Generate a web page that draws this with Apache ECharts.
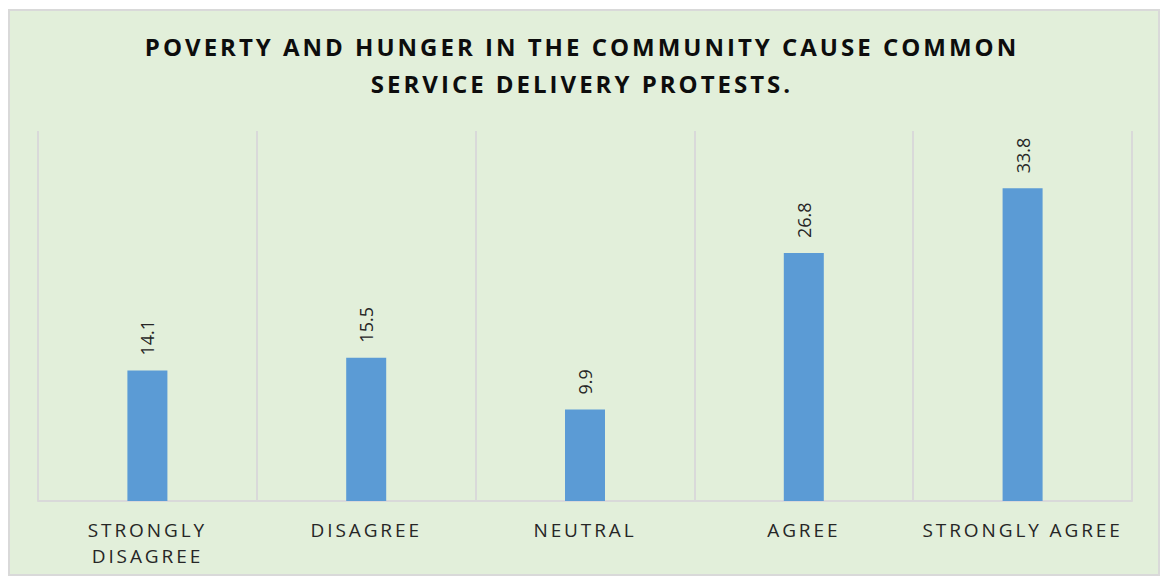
<!DOCTYPE html>
<html>
<head>
<meta charset="utf-8">
<script src="https://cdn.jsdelivr.net/npm/echarts@6/dist/echarts.min.js"></script>
<style>
  html, body { margin: 0; padding: 0; background: #ffffff; }
  #chart { width: 1164px; height: 580px; }
  /* tracked capitals for the title and category names */
  #chart text[style*="bold"] { letter-spacing: 3px; }
  #chart text[style*="19px"] { letter-spacing: 2.9px; }
</style>
</head>
<body>
<div id="chart"></div>
<script>
const titleLines = [
  'POVERTY AND HUNGER IN THE COMMUNITY CAUSE COMMON',
  'SERVICE DELIVERY PROTESTS.'
];
const categories = ['STRONGLY\nDISAGREE', 'DISAGREE', 'NEUTRAL', 'AGREE', 'STRONGLY AGREE'];
const percentages = [14.1, 15.5, 9.9, 26.8, 33.8];

const chart = echarts.init(document.getElementById('chart'), null, { renderer: 'svg' });

chart.setOption({
  backgroundColor: '#ffffff',
  animation: false,
  graphic: [{
    type: 'rect',
    z: -10,
    shape: { x: 9, y: 10, width: 1150, height: 565 },
    style: { fill: '#e2efda', stroke: '#d9d9d9', lineWidth: 2 }
  }],
  title: {
    text: titleLines.join('\n'),
    left: 'center',
    top: 23,
    textStyle: {
      fontFamily: 'Open Sans',
      fontSize: 24,
      fontWeight: 'bold',
      color: '#0d0d0d',
      lineHeight: 37
    }
  },
  grid: { left: 38, right: 32, top: 131, bottom: 79 },
  xAxis: {
    type: 'category',
    data: categories,
    axisLine: { lineStyle: { color: '#d9d9d9', width: 2 } },
    axisTick: { show: false },
    splitLine: { show: true, lineStyle: { color: '#d9d9d9', width: 2 } },
    axisLabel: {
      margin: 16,
      fontFamily: 'Open Sans',
      fontSize: 19,
      color: '#262626',
      lineHeight: 26,
      interval: 0
    }
  },
  yAxis: {
    type: 'value',
    min: 0,
    max: 40,
    show: false,
    splitLine: { show: false }
  },
  series: [{
    type: 'bar',
    data: percentages,
    barWidth: 40,
    itemStyle: { color: '#5b9bd5' },
    label: {
      show: true,
      position: 'top',
      rotate: 90,
      align: 'left',
      verticalAlign: 'middle',
      distance: 15,
      fontFamily: 'Open Sans',
      fontSize: 18,
      color: '#262626'
    }
  }]
});
</script>
</body>
</html>
